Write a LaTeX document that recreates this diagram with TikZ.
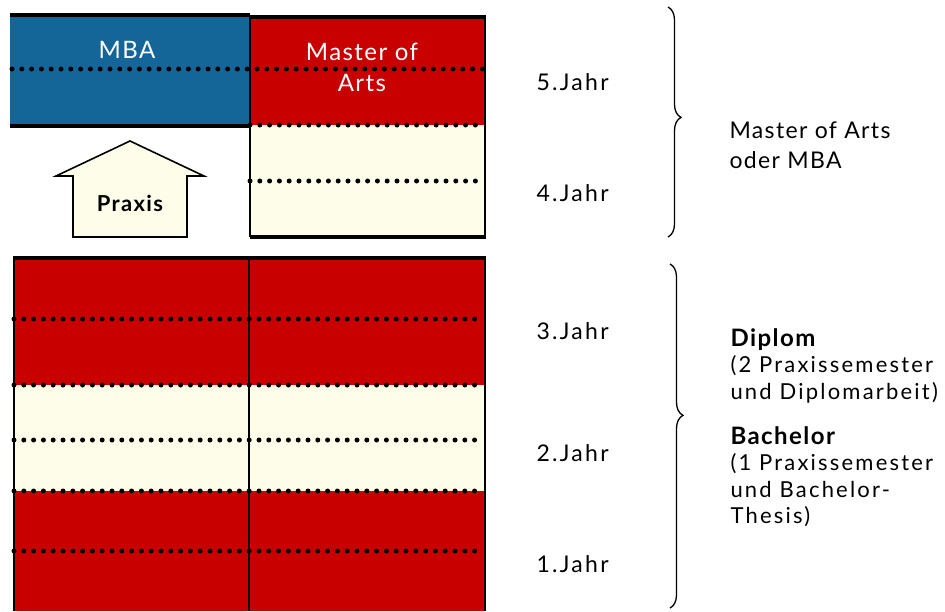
\documentclass[tikz,border=0pt]{standalone}
\usepackage{fontspec}
\setmainfont{Lato}
\newfontfamily\spaced[LetterSpace=10]{Lato}
\newfontfamily\wide[LetterSpace=6]{Lato}
\usetikzlibrary{decorations.pathreplacing}
\definecolor{mbablue}{HTML}{146598}
\definecolor{marot}{HTML}{C80000}
\definecolor{creme}{HTML}{FDFDE9}

\begin{document}
\begin{tikzpicture}[x=1pt,y=-1pt,
    year/.style={anchor=west,font=\spaced\fontsize{23}{26}\selectfont},
    boxtext/.style={white,font=\wide\fontsize{24}{31}\selectfont,align=center},
    note/.style={anchor=north west,align=left,font=\spaced\fontsize{22}{26.5}\selectfont},
    dots/.style={line width=5pt,line cap=round,dash pattern=on 0pt off 9.8pt},
    heavy/.style={line width=4pt},
    light/.style={line width=1.6pt},
    curly/.style={decorate,line width=1.3pt}]

    \path[use as bounding box] (0,0) rectangle (945,611);

    % upper block: 4. und 5. Jahr
    \fill[mbablue] (10,15) rectangle (250,126);
    \fill[marot] (250,16) rectangle (485,125);
    \fill[creme] (250,125) rectangle (485,237);
    \draw[dots] (12,69) -- (483,69);
    \foreach \y in {125,181}
      \draw[dots] (250,\y) -- (483,\y);
    \draw[heavy] (10,15) -- (250,15);
    \draw[heavy] (250,17) -- (486,17);
    \draw[heavy] (10,126) -- (250,126);
    \draw[heavy] (250,237) -- (486,237);
    \draw[light] (250,15) -- (250,237);
    \draw[light] (485,17) -- (485,237);

    % lower block: 1. bis 3. Jahr
    \fill[marot] (14,258) rectangle (485,385);
    \fill[creme] (14,385) rectangle (485,491);
    \fill[marot] (14,491) rectangle (485,611);
    \foreach \y in {319,385,440,491,551}
      \draw[dots] (14,\y) -- (483,\y);
    \draw[heavy] (13,258) -- (486,258);
    \draw[light] (14,258) -- (14,611);
    \draw[light] (249,258) -- (249,611);
    \draw[light] (485,258) -- (485,611);

    % Praxis arrow
    \draw[light,fill=creme] (73,237) -- (73,176) -- (56,176) -- (130,141)
      -- (204,176) -- (187,176) -- (187,237) -- cycle;

    \node[boxtext] (mba) at (127,50) {MBA};
    \node[boxtext] (ma) at (362,67) {Master of\\Arts};
    \node[font=\wide\fontsize{22}{24}\selectfont\bfseries] (praxis) at (130,203) {Praxis};

    % years
    \node[year] (j5) at (533,82) {5.Jahr};
    \node[year] (j4) at (533,193) {4.Jahr};
    \node[year] (j3) at (533,331) {3.Jahr};
    \node[year] (j2) at (533,453) {2.Jahr};
    \node[year] (j1) at (533,564) {1.Jahr};

    % braces
    \coordinate (top1) at (668,7);
    \coordinate (bot1) at (668,237);
    \coordinate (top2) at (670,264);
    \coordinate (bot2) at (670,608);
    \draw[curly,decoration={brace,amplitude=13pt,aspect=0.48}] (top1) -- (bot1);
    \draw[curly,decoration={brace,amplitude=13pt,aspect=0.44}] (top2) -- (bot2);

    \node[note,font=\wide\fontsize{23}{30}\selectfont] (master) at (726,118) {Master of Arts\\oder MBA};
    \node[note] (diplom) at (727,325) {{\wide\fontsize{24}{26.5}\selectfont\bfseries Diplom}\\(2 Praxissemester\\und Diplomarbeit)};
    \node[note] (bachelor) at (727,423) {{\wide\fontsize{24}{26.5}\selectfont\bfseries Bachelor}\\(1 Praxissemester\\und Bachelor-\\Thesis)};
  \end{tikzpicture}
\end{document}
